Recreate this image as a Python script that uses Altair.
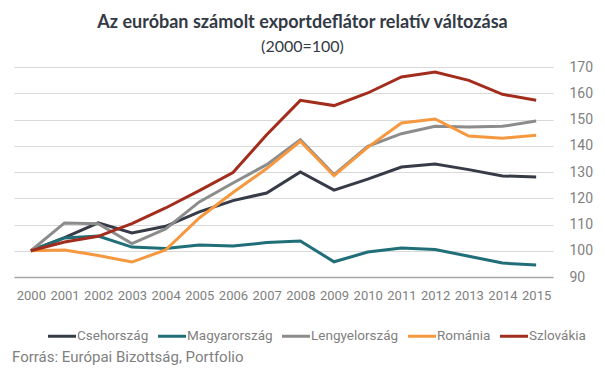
import altair as alt
import pandas as pd

years = list(range(2000, 2016))
countries = ["Csehország", "Magyarország", "Lengyelország", "Románia", "Szlovákia"]
colors = ["#363b47", "#1f6e78", "#8c8c8c", "#f5983f", "#a32d1d"]

cseh = [100, 105.0, 110.6, 106.8, 109.3, 114.8, 119.1, 122.0, 130.0, 123.1, 127.3, 131.9, 133.0, 130.9, 128.5, 128.1]
magyar = [100, 104.9, 105.6, 101.4, 100.9, 102.2, 101.8, 103.1, 103.7, 95.8, 99.5, 101.0, 100.5, 97.9, 95.3, 94.6]
lengyel = [100, 110.6, 110.3, 102.7, 108.3, 118.6, 125.8, 132.8, 142.3, 129.0, 139.8, 144.6, 147.4, 147.1, 147.4, 149.4]
romania = [100, 100.3, 98.2, 95.7, 100.3, 112.5, 122.2, 131.3, 141.7, 128.6, 139.4, 148.7, 150.2, 143.7, 142.9, 144.0]
szlovakia = [100, 103.3, 105.5, 110.3, 116.3, 122.9, 129.8, 144.2, 157.3, 155.3, 160.1, 166.2, 168.1, 164.9, 159.6, 157.3]

y_ticks = list(range(90, 171, 10))
title_text = "Az euróban számolt exportdeflátor relatív változása"
subtitle_text = "(2000=100)"
source_text = "Forrás: Európai Bizottság, Portfolio"

series = [cseh, magyar, lengyel, romania, szlovakia]
rows = []
for name, vals in zip(countries, series):
    for yr, v in zip(years, vals):
        rows.append({"ev": yr, "orszag": name, "ertek": v})
df = pd.DataFrame(rows)

lines = alt.Chart(df).mark_line(strokeWidth=3).encode(
    x=alt.X("ev:Q",
            scale=alt.Scale(domain=[1999.5, 2015.5], nice=False, zero=False),
            axis=alt.Axis(values=years, format="d", title=None, grid=False, ticks=False,
                          domainColor="#a6a6a6", domainWidth=1.5,
                          labelFont="Roboto", labelFontSize=13, labelColor="#7f7f7f",
                          labelPadding=12, labelOverlap=False)),
    y=alt.Y("ertek:Q",
            scale=alt.Scale(domain=[90, 170], nice=False, zero=False),
            axis=alt.Axis(orient="right", values=y_ticks, title=None, domain=False, ticks=False,
                          gridColor="#d9d9d9", gridWidth=1,
                          labelFont="Roboto", labelFontSize=14, labelColor="#7f7f7f",
                          labelPadding=16)),
    color=alt.Color("orszag:N",
                    scale=alt.Scale(domain=countries, range=colors),
                    sort=countries,
                    legend=alt.Legend(title=None, orient="none", legendX=34, legendY=255,
                                      direction="horizontal", columns=5,
                                      symbolType="M-1.12,0H1.12", symbolSize=625, symbolStrokeWidth=3,
                                      labelOffset=1, columnPadding=3,
                                      labelFont="Roboto", labelFontSize=13.5, labelColor="#7f7f7f")),
    order=alt.Order("ev:Q"),
)

source = alt.Chart(pd.DataFrame({"t": [source_text]})).mark_text(
    align="left", baseline="alphabetic", font="Roboto", fontSize=15, color="#808080"
).encode(text="t:N", x=alt.value(-2), y=alt.value(295))

chart = alt.layer(lines, source).properties(
    width=539, height=210,
    padding={"left": 6, "top": 59, "right": 44, "bottom": 93},
    autosize=alt.AutoSizeParams(type="none"),
    title=alt.TitleParams(text=title_text, subtitle=subtitle_text, anchor="middle", dx=19,
                          font="Lato", fontSize=18, fontWeight="bold", color="#333a45",
                          subtitleFont="Lato", subtitleFontSize=16, subtitleColor="#333a45",
                          subtitlePadding=7, offset=5),
).configure_view(stroke=None)

chart.save("out.html", embed_options={"renderer": "svg", "actions": False})
